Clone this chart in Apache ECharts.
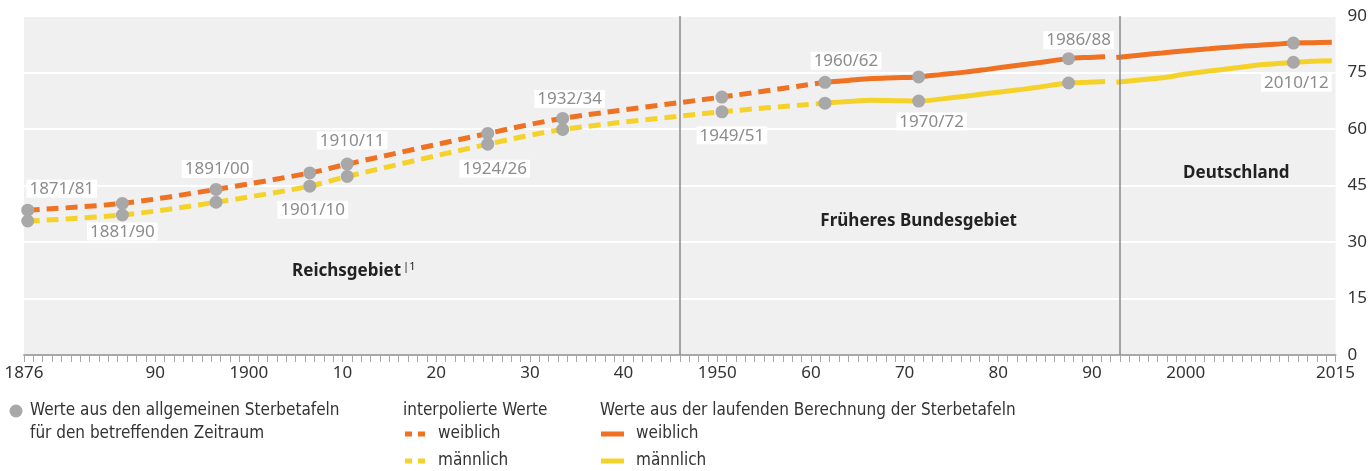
<!DOCTYPE html>
<html>
<head>
<meta charset="utf-8">
<title>Lebenserwartung bei Geburt</title>
<script src="https://cdn.jsdelivr.net/npm/echarts@6.0.0/dist/echarts.min.js"></script>
<style>
html,body{margin:0;padding:0;background:#fff;}
#chart{width:1370px;height:471px;}
</style>
</head>
<body>
<div id="chart"></div>
<script>
// allgemeine Sterbetafeln (Zeitraum, Lage auf der Zeitachse, Werte)
var periods = ['1871/81','1881/90','1891/00','1901/10','1910/11','1924/26','1932/34','1949/51','1960/62','1970/72','1986/88','2010/12'];
var periodYears = [1876.4,1886.5,1896.5,1906.5,1910.5,1925.5,1933.5,1950.5,1961.5,1971.5,1987.5,2011.5];
var tableFemale = [38.45,40.25,43.97,48.33,50.68,58.82,62.81,68.48,72.39,73.83,78.68,82.80];
var tableMale = [35.58,37.17,40.56,44.82,47.41,55.97,59.86,64.56,66.86,67.41,72.21,77.72];

// laufende Berechnung - früheres Bundesgebiet
var westYears = [1961.5,1964,1966.5,1969,1971.5,1974,1976.5,1979,1981.5,1984,1987.5,1989.5,1991.4];
var westFemale = [72.39,72.9,73.4,73.6,73.83,74.5,75.1,75.9,76.7,77.5,78.68,79.0,79.2];
var westMale = [66.86,67.3,67.6,67.5,67.41,68.0,68.7,69.5,70.2,71.0,72.21,72.4,72.6];

// laufende Berechnung - Deutschland
var gerYears = [1992.6,1995,1997.5,2000,2002.5,2005,2007.5,2009.5,2011.5,2013.5,2015.6];
var gerFemale = [79.0,79.6,80.2,80.8,81.3,81.8,82.2,82.5,82.8,82.9,83.05];
var gerMale = [72.4,73.0,73.6,74.6,75.4,76.1,76.9,77.3,77.72,78.0,78.1];

// Achsenbeschriftung
var labelYears = [1876,1890,1900,1910,1920,1930,1940,1950,1960,1970,1980,1990,2000,2016];
var labelTexts = ['1876','90','1900','10','20','30','40','1950','60','70','80','90','2000','2015'];
var borderYears = [1946, 1993];

var orange = '#ef7122';
var yellow = '#f5d22a';
var dotGray = '#a8a8a8';
var sans = '"Noto Sans",sans-serif';
var legendFont = '17px "DejaVu Sans Condensed",sans-serif';

function pairs(xs, ys, n){
	var arr = [];
	for(var i=0;i<(n||xs.length);i++){
		arr.push([xs[i], ys[i]]);
	}
	return arr;
}

// Beschriftung der Punkte: abwechselnd oben (weiblich) / unten (männlich)
var labelShift = [[34,0],[0,-5],[1,1],[3,2],[5,-2],[7,3],[7,2],[10,2],[21,0],[13,-1],[10,3],[3,-1]];
function dots(ys, even){
	var arr = [];
	for(var i=0;i<ys.length;i++){
		arr.push({
			value:[periodYears[i], ys[i]],
			name:periods[i],
			label:{show:(i%2==0)==even, offset:labelShift[i]}
		});
	}
	return arr;
}

function legendText(x, y, txt){
	return {type:'text', x:x, y:y,
		style:{text:txt, font:legendFont, fill:'#333', verticalAlign:'middle'}};
}

var chart = echarts.init(document.getElementById('chart'));
var dotLabel = {
	position:'top',
	distance:6,
	formatter:'{b}',
	color:'#8c8c8c',
	fontSize:17,
	fontFamily:sans,
	backgroundColor:'#fff',
	padding:[1,3,0,3]
};
var option = {
	animation:false,
	grid:{
		left:24,
		right:30,
		top:16,
		bottom:116,
		show:true,
		backgroundColor:'#f0f0f0',
		borderWidth:0
	},
	xAxis:{
		type:'value',
		min:1876,
		max:2016,
		interval:1,
		axisLine:{lineStyle:{color:'#a8a8a8', width:2}},
		axisTick:{length:7, lineStyle:{color:'#a8a8a8'}},
		splitLine:{show:false},
		axisLabel:{
			margin:10,
			color:'#333',
			fontSize:17,
			fontFamily:sans,
			formatter:function(v){
				var k = labelYears.indexOf(Math.round(v));
				return k<0 ? '' : labelTexts[k];
			}
		}
	},
	yAxis:{
		type:'value',
		position:'right',
		min:0,
		max:90,
		interval:15,
		axisLine:{show:false},
		axisTick:{show:false},
		splitLine:{lineStyle:{color:'#fff', width:2}},
		axisLabel:{margin:12, color:'#333', fontSize:17, fontFamily:sans}
	},
	series:[{
		// Gebietsgrenzen und Gebietsnamen
		type:'line',
		data:[],
		z:1,
		markLine:{
			silent:true,
			symbol:['none','none'],
			label:{show:false},
			lineStyle:{color:'#8a8a8a', width:1.5, type:'solid'},
			data:borderYears.map(function(y){return {xAxis:y};})
		},
		markPoint:{
			symbolSize:0,
			label:{
				show:true,
				position:'inside',
				color:'#222',
				fontFamily:sans,
				fontSize:17,
				fontWeight:'bold',
				formatter:function(p){return p.name;},
				rich:{s:{fontSize:11, fontWeight:'normal', color:'#222', verticalAlign:'top', padding:[0,0,8,2]}}
			},
			data:[
				{name:'Reichsgebiet{s||1}', coord:[1911.2,22.3]},
				{name:'Früheres Bundesgebiet', coord:[1971.5,35.6]},
				{name:'Deutschland', coord:[2005.4,48.4]}
			]
		}
	},{
		name:'interpoliert weiblich',
		type:'line',
		data:pairs(periodYears, tableFemale, 9),
		smooth:0.3,
		symbol:'none',
		z:2,
		lineStyle:{color:orange, width:5, type:[12,7]}
	},{
		name:'interpoliert männlich',
		type:'line',
		data:pairs(periodYears, tableMale, 9),
		smooth:0.3,
		symbol:'none',
		z:2,
		lineStyle:{color:yellow, width:5, type:[12,7]}
	},{
		name:'weiblich',
		type:'line',
		data:pairs(westYears, westFemale),
		smooth:0.3,
		symbol:'none',
		z:3,
		lineStyle:{color:orange, width:5}
	},{
		name:'männlich',
		type:'line',
		data:pairs(westYears, westMale),
		smooth:0.3,
		symbol:'none',
		z:3,
		lineStyle:{color:yellow, width:5}
	},{
		name:'weiblich',
		type:'line',
		data:pairs(gerYears, gerFemale),
		smooth:0.3,
		symbol:'none',
		z:3,
		lineStyle:{color:orange, width:5}
	},{
		name:'männlich',
		type:'line',
		data:pairs(gerYears, gerMale),
		smooth:0.3,
		symbol:'none',
		z:3,
		lineStyle:{color:yellow, width:5}
	},{
		name:'Sterbetafel weiblich',
		type:'scatter',
		symbolSize:13,
		itemStyle:{color:dotGray, opacity:1},
		z:5,
		label:dotLabel,
		data:dots(tableFemale, true)
	},{
		name:'Sterbetafel männlich',
		type:'scatter',
		symbolSize:13,
		itemStyle:{color:dotGray, opacity:1},
		z:5,
		label:echarts.util.merge({position:'bottom'}, dotLabel),
		data:dots(tableMale, false)
	}],
	// Legende unten
	graphic:[
		{type:'circle', shape:{cx:16, cy:411, r:6.5}, style:{fill:dotGray}},
		legendText(30, 411, 'Werte aus den allgemeinen Sterbetafeln'),
		legendText(30, 434, 'für den betreffenden Zeitraum'),
		legendText(403, 411, 'interpolierte Werte'),
		{type:'rect', shape:{x:405, y:431.5, width:7, height:5}, style:{fill:orange}},
		{type:'rect', shape:{x:418, y:431.5, width:7, height:5}, style:{fill:orange}},
		legendText(438, 434, 'weiblich'),
		{type:'rect', shape:{x:405, y:458.5, width:7, height:5}, style:{fill:yellow}},
		{type:'rect', shape:{x:418, y:458.5, width:7, height:5}, style:{fill:yellow}},
		legendText(438, 461, 'männlich'),
		legendText(600, 411, 'Werte aus der laufenden Berechnung der Sterbetafeln'),
		{type:'rect', shape:{x:601, y:431.5, width:23, height:5}, style:{fill:orange}},
		legendText(636, 434, 'weiblich'),
		{type:'rect', shape:{x:601, y:458.5, width:23, height:5}, style:{fill:yellow}},
		legendText(636, 461, 'männlich')
	]
};
chart.setOption(option);
</script>
</body>
</html>
